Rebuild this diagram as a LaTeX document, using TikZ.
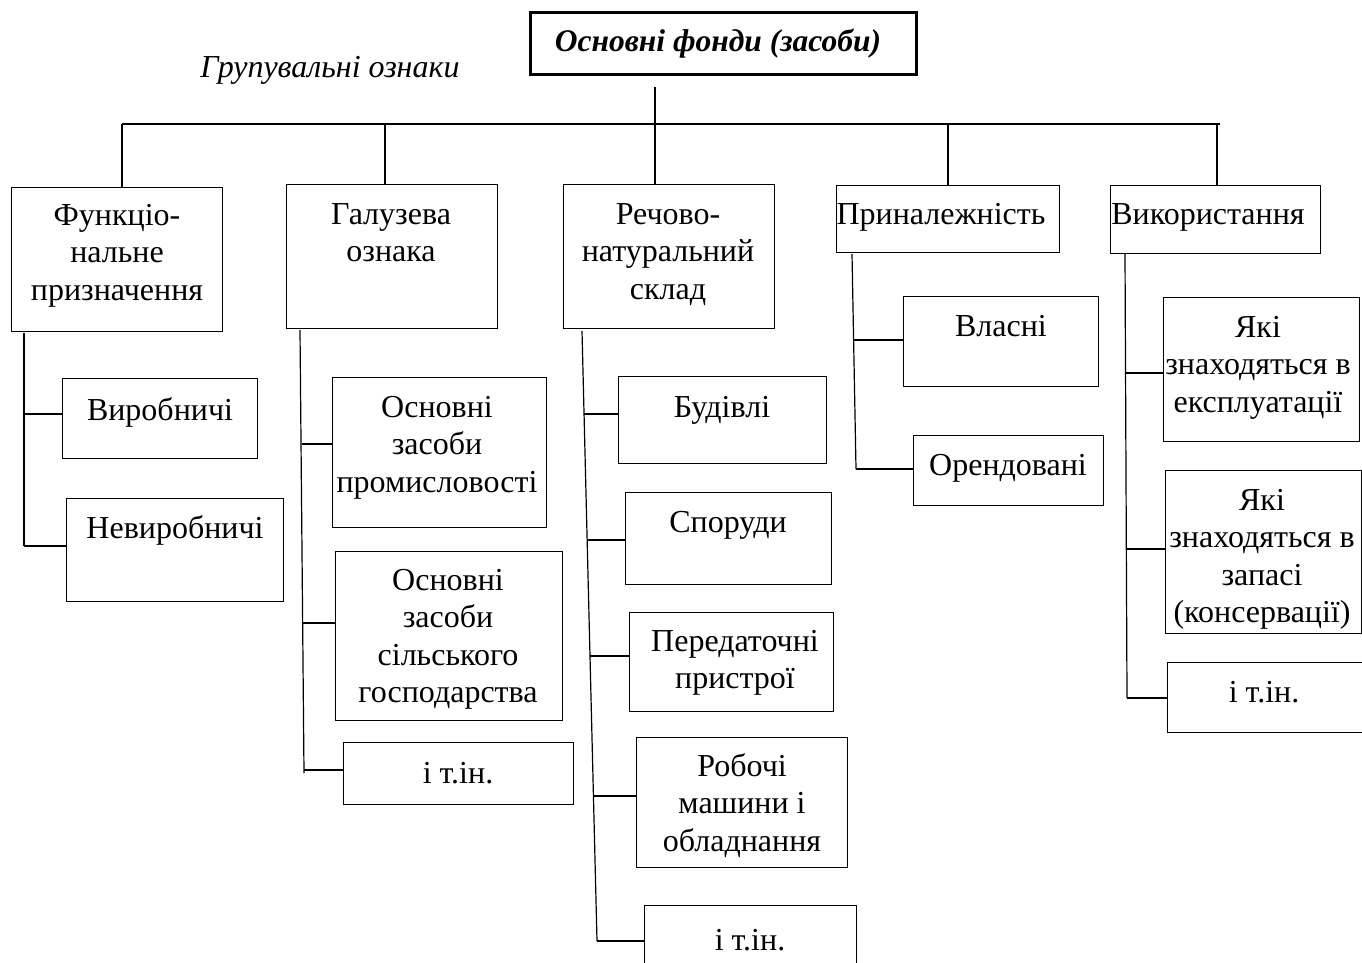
\documentclass[tikz,border=0pt]{standalone}
\usepackage{fontspec}
\setmainfont{Liberation Serif}
\begin{document}
\begin{tikzpicture}[x=1pt,y=-1pt]
\tikzset{
 box/.style={draw, line width=1.2pt, inner sep=0pt, anchor=north west},
 txt/.style={inner sep=0pt, anchor=north, align=center, font=\fontsize{32}{37.5}\selectfont},
 ln/.style={line width=1.2pt},
}
\newcommand{\bx}[8]{%
 \node[box, minimum width={#4pt-#2pt}, minimum height={#5pt-#3pt}] (#1) at (#2,#3) {};
 \node[txt] (#1t) at (#6,#7) {\strut #8};}
\fill[white] (0,0) rectangle (1362,963);
\useasboundingbox (0,0) rectangle (1362,963);
% top
\node[draw, line width=2.6pt, inner sep=0pt, anchor=north west, minimum width=386pt, minimum height=62pt] (top) at (529,11) {};
\node[inner sep=0pt, font=\fontsize{31.5}{37}\selectfont\bfseries\itshape] (topt) at (718,44) {Основні фонди (засоби)};
\node[inner sep=0pt, font=\fontsize{32}{36}\selectfont\itshape] (hdr) at (330,70) {Групувальні ознаки};
% column 1
\bx{fun}{11}{187}{222}{331}{117}{199}{Функціо-\\нальне\\призначення}
\bx{vyr}{62}{378}{257}{458}{160}{394}{Виробничі}
\bx{nevyr}{66}{498}{283}{601}{175}{512}{Невиробничі}
% column 2
\bx{gal}{286}{184}{497}{328}{391}{198}{Галузева\\ознака}
\bx{prom}{332}{377}{546}{527}{437}{391}{Основні\\засоби\\промисловості}
\bx{silg}{335}{551}{562}{720}{448}{564}{Основні\\засоби\\сільського\\господарства}
\bx{gin}{343}{742}{573}{804}{458}{757}{і т.ін.}
% column 3
\bx{rech}{563}{184}{774}{328}{668}{198}{Речово-\\натуральний\\склад}
\bx{bud}{618}{376}{826}{463}{722}{391}{Будівлі}
\bx{spor}{625}{492}{831}{584}{728}{506}{Споруди}
\bx{pered}{629}{612}{833}{711}{735}{625}{Передаточні\\пристрої}
\bx{rob}{636}{737}{847}{867}{742}{750}{Робочі\\машини і\\обладнання}
\bx{rin}{644}{905}{856}{975}{750}{924}{і т.ін.}
% column 4
\bx{prin}{836}{185}{1059}{252}{941}{198}{Приналежність}
\bx{vlas}{903}{296}{1098}{386}{1001}{310}{Власні}
\bx{orend}{913}{435}{1103}{505}{1008}{449}{Орендовані}
% column 5
\bx{vyk}{1110}{185}{1320}{253}{1208}{198}{Використання}
\bx{ekspl}{1163}{297}{1359}{441}{1258}{311}{Які\\знаходяться в\\експлуатації}
\bx{zap}{1165}{470}{1361}{633}{1262}{484}{Які\\знаходяться в\\запасі\\(консервації)}
\bx{vin}{1167}{662}{1366}{732}{1264}{676}{і т.ін.}
% top connectors
\coordinate (t0) at (655,87);
\draw[ln] (t0) -- (t0 |- rech.north);
\coordinate (busL) at (122,124);
\coordinate (busR) at (1220,124);
\coordinate (b2) at (385,124);
\coordinate (b4) at (948,124);
\coordinate (b5) at (1217,124);
\draw[ln] (busL) -- (busR);
\draw[ln] (busL) -- (busL |- fun.north);
\draw[ln] (b2) -- (b2 |- gal.north);
\draw[ln] (b4) -- (b4 |- prin.north);
\draw[ln] (b5) -- (b5 |- vyk.north);
% column 1 spine
\coordinate (s1a) at (24,333);
\coordinate (s1v) at (24,414);
\coordinate (s1b) at (24,546);
\draw[ln] (s1a) -- (s1b);
\draw[ln] (s1v) -- (s1v -| vyr.west);
\draw[ln] (s1b) -- (s1b -| nevyr.west);
% column 2 spine
\coordinate (s2a) at (300,330);
\coordinate (s2p) at (302,444);
\coordinate (s2s) at (303,623);
\coordinate (s2b) at (304,770);
\draw[ln] (s2a) -- (304,773) coordinate (s2e);
\draw[ln] (s2p) -- (s2p -| prom.west);
\draw[ln] (s2s) -- (s2s -| silg.west);
\draw[ln] (s2b) -- (s2b -| gin.west);
% column 3 spine
\coordinate (s3a) at (582,331);
\coordinate (s3e) at (597,941);
\coordinate (s3b) at (584,414);
\coordinate (s3s) at (587,540);
\coordinate (s3p) at (590,656);
\coordinate (s3r) at (594,796);
\draw[ln] (s3a) -- (s3e);
\draw[ln] (s3b) -- (s3b -| bud.west);
\draw[ln] (s3s) -- (s3s -| spor.west);
\draw[ln] (s3p) -- (s3p -| pered.west);
\draw[ln] (s3r) -- (s3r -| rob.west);
\draw[ln] (s3e) -- (s3e -| rin.west);
% column 4 spine
\coordinate (s4a) at (852,254);
\coordinate (s4v) at (854,340);
\coordinate (s4e) at (856,469);
\draw[ln] (s4a) -- (s4e);
\draw[ln] (s4v) -- (s4v -| vlas.west);
\draw[ln] (s4e) -- (s4e -| orend.west);
% column 5 spine
\coordinate (s5a) at (1125,254);
\coordinate (s5k) at (1125.5,373);
\coordinate (s5z) at (1126.3,549);
\coordinate (s5e) at (1127,698);
\draw[ln] (s5a) -- (s5e);
\draw[ln] (s5k) -- (s5k -| ekspl.west);
\draw[ln] (s5z) -- (s5z -| zap.west);
\draw[ln] (s5e) -- (s5e -| vin.west);
\end{tikzpicture}
\end{document}
